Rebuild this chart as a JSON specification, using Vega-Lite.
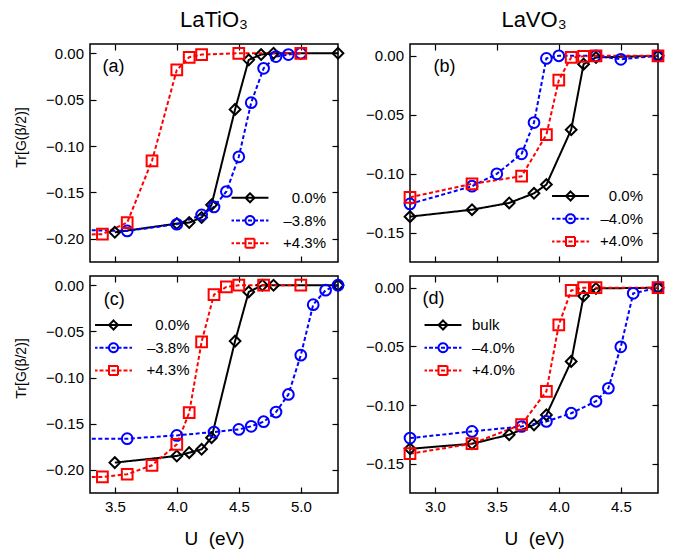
{
  "$schema": "https://vega.github.io/schema/vega-lite/v6.json",
  "padding": {"left": 13, "top": 8, "right": 5, "bottom": 5},
  "background": "white",
  "config": {
    "font": "Liberation Sans",
    "view": {"stroke": "black", "strokeWidth": 1.5},
    "axis": {"grid": false, "domain": false, "tickSize": -6, "tickWidth": 1.2, "tickColor": "black", "labelFontSize": 15, "labelColor": "black", "labelFont": "Liberation Sans", "titleFont": "Liberation Sans", "titleFontWeight": "normal", "titleColor": "black"},
    "axisX": {"labelPadding": 12, "titleFontSize": 19, "titlePadding": 15},
    "axisY": {"labelPadding": 12.5},
    "legend": {"labelFont": "Liberation Sans", "labelFontSize": 15, "labelColor": "black", "symbolSize": 81, "symbolStrokeWidth": 2, "padding": 0, "rowPadding": 5.7, "orient": "none"},
    "title": {"font": "Liberation Sans", "fontSize": 22, "fontWeight": "normal", "color": "black", "baseline": "alphabetic", "offset": 11, "frame": "group"}
  },
  "datasets": {
    "d": [
      {"p": "a", "s": "0.0%", "U": 3.5, "G": -0.193},
      {"p": "a", "s": "0.0%", "U": 4.0, "G": -0.1836},
      {"p": "a", "s": "0.0%", "U": 4.1, "G": -0.1825},
      {"p": "a", "s": "0.0%", "U": 4.2, "G": -0.177},
      {"p": "a", "s": "0.0%", "U": 4.28, "G": -0.1634},
      {"p": "a", "s": "0.0%", "U": 4.47, "G": -0.0605},
      {"p": "a", "s": "0.0%", "U": 4.58, "G": -0.0071},
      {"p": "a", "s": "0.0%", "U": 4.68, "G": -0.0014},
      {"p": "a", "s": "0.0%", "U": 4.78, "G": 0},
      {"p": "a", "s": "0.0%", "U": 5.3, "G": 0},
      {"p": "a", "s": "–3.8%", "U": 3.0, "G": -0.19},
      {"p": "a", "s": "–3.8%", "U": 3.6, "G": -0.1915},
      {"p": "a", "s": "–3.8%", "U": 4.0, "G": -0.1843},
      {"p": "a", "s": "–3.8%", "U": 4.2, "G": -0.1742},
      {"p": "a", "s": "–3.8%", "U": 4.3, "G": -0.1656},
      {"p": "a", "s": "–3.8%", "U": 4.4, "G": -0.149},
      {"p": "a", "s": "–3.8%", "U": 4.5, "G": -0.1116},
      {"p": "a", "s": "–3.8%", "U": 4.6, "G": -0.0532},
      {"p": "a", "s": "–3.8%", "U": 4.7, "G": -0.0162},
      {"p": "a", "s": "–3.8%", "U": 4.8, "G": -0.0036},
      {"p": "a", "s": "–3.8%", "U": 4.9, "G": -0.0014},
      {"p": "a", "s": "–3.8%", "U": 5.0, "G": 0},
      {"p": "a", "s": "+4.3%", "U": 3.0, "G": -0.1965},
      {"p": "a", "s": "+4.3%", "U": 3.4, "G": -0.195},
      {"p": "a", "s": "+4.3%", "U": 3.6, "G": -0.1825},
      {"p": "a", "s": "+4.3%", "U": 3.8, "G": -0.1159},
      {"p": "a", "s": "+4.3%", "U": 4.0, "G": -0.018},
      {"p": "a", "s": "+4.3%", "U": 4.1, "G": -0.0043},
      {"p": "a", "s": "+4.3%", "U": 4.2, "G": -0.0014},
      {"p": "a", "s": "+4.3%", "U": 4.5, "G": 0},
      {"p": "a", "s": "+4.3%", "U": 5.0, "G": 0},
      {"p": "b", "s": "0.0%", "U": 2.8, "G": -0.1365},
      {"p": "b", "s": "0.0%", "U": 3.3, "G": -0.1306},
      {"p": "b", "s": "0.0%", "U": 3.6, "G": -0.1249},
      {"p": "b", "s": "0.0%", "U": 3.8, "G": -0.1167},
      {"p": "b", "s": "0.0%", "U": 3.9, "G": -0.1093},
      {"p": "b", "s": "0.0%", "U": 4.1, "G": -0.0627},
      {"p": "b", "s": "0.0%", "U": 4.2, "G": -0.0071},
      {"p": "b", "s": "0.0%", "U": 4.3, "G": -0.0014},
      {"p": "b", "s": "0.0%", "U": 4.8, "G": 0},
      {"p": "b", "s": "–4.0%", "U": 2.8, "G": -0.1257},
      {"p": "b", "s": "–4.0%", "U": 3.3, "G": -0.1107},
      {"p": "b", "s": "–4.0%", "U": 3.5, "G": -0.1002},
      {"p": "b", "s": "–4.0%", "U": 3.7, "G": -0.0832},
      {"p": "b", "s": "–4.0%", "U": 3.8, "G": -0.0567},
      {"p": "b", "s": "–4.0%", "U": 3.9, "G": -0.0022},
      {"p": "b", "s": "–4.0%", "U": 4.0, "G": 0},
      {"p": "b", "s": "–4.0%", "U": 4.3, "G": 0},
      {"p": "b", "s": "–4.0%", "U": 4.5, "G": -0.003},
      {"p": "b", "s": "–4.0%", "U": 4.8, "G": 0},
      {"p": "b", "s": "+4.0%", "U": 2.8, "G": -0.1201},
      {"p": "b", "s": "+4.0%", "U": 3.3, "G": -0.1087},
      {"p": "b", "s": "+4.0%", "U": 3.7, "G": -0.1022},
      {"p": "b", "s": "+4.0%", "U": 3.9, "G": -0.067},
      {"p": "b", "s": "+4.0%", "U": 4.0, "G": -0.0207},
      {"p": "b", "s": "+4.0%", "U": 4.1, "G": -0.0014},
      {"p": "b", "s": "+4.0%", "U": 4.2, "G": -0.0005},
      {"p": "b", "s": "+4.0%", "U": 4.3, "G": 0},
      {"p": "b", "s": "+4.0%", "U": 4.8, "G": 0},
      {"p": "c", "s": "0.0%", "U": 3.5, "G": -0.1921},
      {"p": "c", "s": "0.0%", "U": 4.0, "G": -0.1849},
      {"p": "c", "s": "0.0%", "U": 4.1, "G": -0.1813},
      {"p": "c", "s": "0.0%", "U": 4.2, "G": -0.1777},
      {"p": "c", "s": "0.0%", "U": 4.28, "G": -0.1651},
      {"p": "c", "s": "0.0%", "U": 4.47, "G": -0.0605},
      {"p": "c", "s": "0.0%", "U": 4.58, "G": -0.0072},
      {"p": "c", "s": "0.0%", "U": 4.69, "G": 0},
      {"p": "c", "s": "0.0%", "U": 4.78, "G": 0},
      {"p": "c", "s": "0.0%", "U": 5.3, "G": 0},
      {"p": "c", "s": "–3.8%", "U": 3.0, "G": -0.1664},
      {"p": "c", "s": "–3.8%", "U": 3.6, "G": -0.1662},
      {"p": "c", "s": "–3.8%", "U": 4.0, "G": -0.1626},
      {"p": "c", "s": "–3.8%", "U": 4.3, "G": -0.159},
      {"p": "c", "s": "–3.8%", "U": 4.5, "G": -0.1561},
      {"p": "c", "s": "–3.8%", "U": 4.6, "G": -0.1528},
      {"p": "c", "s": "–3.8%", "U": 4.7, "G": -0.1478},
      {"p": "c", "s": "–3.8%", "U": 4.8, "G": -0.1373},
      {"p": "c", "s": "–3.8%", "U": 4.9, "G": -0.1183},
      {"p": "c", "s": "–3.8%", "U": 5.0, "G": -0.0757},
      {"p": "c", "s": "–3.8%", "U": 5.1, "G": -0.021},
      {"p": "c", "s": "–3.8%", "U": 5.2, "G": -0.0054},
      {"p": "c", "s": "–3.8%", "U": 5.3, "G": 0},
      {"p": "c", "s": "+4.3%", "U": 3.0, "G": -0.208},
      {"p": "c", "s": "+4.3%", "U": 3.4, "G": -0.2076},
      {"p": "c", "s": "+4.3%", "U": 3.6, "G": -0.2047},
      {"p": "c", "s": "+4.3%", "U": 3.8, "G": -0.195},
      {"p": "c", "s": "+4.3%", "U": 4.0, "G": -0.1723},
      {"p": "c", "s": "+4.3%", "U": 4.1, "G": -0.138},
      {"p": "c", "s": "+4.3%", "U": 4.2, "G": -0.0613},
      {"p": "c", "s": "+4.3%", "U": 4.3, "G": -0.0101},
      {"p": "c", "s": "+4.3%", "U": 4.4, "G": -0.0018},
      {"p": "c", "s": "+4.3%", "U": 4.5, "G": 0},
      {"p": "c", "s": "+4.3%", "U": 4.7, "G": 0},
      {"p": "c", "s": "+4.3%", "U": 5.0, "G": 0},
      {"p": "d", "s": "bulk", "U": 2.8, "G": -0.1373},
      {"p": "d", "s": "bulk", "U": 3.3, "G": -0.133},
      {"p": "d", "s": "bulk", "U": 3.6, "G": -0.1253},
      {"p": "d", "s": "bulk", "U": 3.8, "G": -0.1169},
      {"p": "d", "s": "bulk", "U": 3.9, "G": -0.1084},
      {"p": "d", "s": "bulk", "U": 4.1, "G": -0.0628},
      {"p": "d", "s": "bulk", "U": 4.2, "G": -0.0071},
      {"p": "d", "s": "bulk", "U": 4.3, "G": -0.0006},
      {"p": "d", "s": "bulk", "U": 4.8, "G": 0},
      {"p": "d", "s": "–4.0%", "U": 2.8, "G": -0.1282},
      {"p": "d", "s": "–4.0%", "U": 3.3, "G": -0.1225},
      {"p": "d", "s": "–4.0%", "U": 3.7, "G": -0.1183},
      {"p": "d", "s": "–4.0%", "U": 3.9, "G": -0.114},
      {"p": "d", "s": "–4.0%", "U": 4.1, "G": -0.107},
      {"p": "d", "s": "–4.0%", "U": 4.3, "G": -0.0968},
      {"p": "d", "s": "–4.0%", "U": 4.4, "G": -0.0857},
      {"p": "d", "s": "–4.0%", "U": 4.5, "G": -0.0504},
      {"p": "d", "s": "–4.0%", "U": 4.6, "G": -0.0048},
      {"p": "d", "s": "–4.0%", "U": 4.8, "G": 0},
      {"p": "d", "s": "+4.0%", "U": 2.8, "G": -0.1415},
      {"p": "d", "s": "+4.0%", "U": 3.3, "G": -0.133},
      {"p": "d", "s": "+4.0%", "U": 3.7, "G": -0.1166},
      {"p": "d", "s": "+4.0%", "U": 3.9, "G": -0.0883},
      {"p": "d", "s": "+4.0%", "U": 4.0, "G": -0.0317},
      {"p": "d", "s": "+4.0%", "U": 4.1, "G": -0.0023},
      {"p": "d", "s": "+4.0%", "U": 4.2, "G": 0},
      {"p": "d", "s": "+4.0%", "U": 4.3, "G": 0},
      {"p": "d", "s": "+4.0%", "U": 4.8, "G": 0}
    ]
  },
  "spacing": 10,
  "resolve": {"scale": {"color": "independent"}},
  "vconcat": [
    {
      "spacing": 72,
      "bounds": "flush",
      "resolve": {"scale": {"color": "independent"}},
      "hconcat": [
        {
          "width": 248, "height": 218,
          "title": {"text": "LaTiO₃"},
          "layer": [
            {
              "data": {"name": "d"},
              "transform": [{"filter": "datum.p === 'a'"}],
              "mark": {"type": "line", "clip": true, "strokeWidth": 2},
              "encoding": {
                "x": {"field": "U", "type": "quantitative", "scale": {"domain": [3.3, 5.3], "nice": false, "zero": false}, "axis": {"orient": "bottom", "values": [3.5, 4, 4.5, 5], "labels": false, "title": null}},
                "y": {"field": "G", "type": "quantitative", "scale": {"domain": [-0.225, 0.01], "nice": false, "zero": false}, "axis": {"orient": "left", "values": [0, -0.05, -0.1, -0.15, -0.2], "format": ".2f", "title": "Tr[G(β/2)]", "titleFontSize": 14, "titleX": -62, "titleY": 93, "titleAngle": 270, "titleBaseline": "bottom", "titleAlign": "center"}},
                "color": {"field": "s", "type": "nominal", "scale": {"domain": ["0.0%", "–3.8%", "+4.3%"], "range": ["black", "#0000ff", "#ff0000"]},
                  "legend": {"title": null, "legendX": 152.5, "legendY": 146.3, "labelAlign": "right", "labelOffset": 68.5,
                    "encode": {"symbols": {"update": {"fill": {"value": "transparent"}, "strokeDash": {"value": [1, 0]}, "shape": {"signal": "datum.index === 0 ? 'M-4.1,0H4.1M-1,0L0,-1L1,0L0,1Z' : datum.index === 1 ? 'M-4.1,0H-3.55M-3.11,0H-2.22M-1.78,0H-0.89M-0.45,0H0.45M0.89,0H1.78M2.22,0H3.11M3.55,0H4.1M1,0A1,1 0 1,1 -1,0A1,1 0 1,1 1,0Z' : 'M-4.1,0H-3.55M-3.11,0H-2.22M-1.78,0H-0.89M-0.45,0H0.45M0.89,0H1.78M2.22,0H3.11M3.55,0H4.1M-1,-1H1V1H-1Z'"}}}}}},
                "strokeDash": {"condition": {"test": "datum.s === '0.0%' || datum.s === 'bulk'", "value": [1, 0]}, "value": [4, 2.5]}
              }
            },
            {
              "data": {"name": "d"},
              "transform": [{"filter": "datum.p === 'a' && datum.U >= 3.3"}],
              "mark": {"type": "point", "filled": false, "strokeWidth": 2, "size": 115, "opacity": 1},
              "encoding": {
                "x": {"field": "U", "type": "quantitative", "axis": {"orient": "top", "values": [3.5, 4, 4.5, 5], "labels": false, "title": null}},
                "y": {"field": "G", "type": "quantitative", "axis": {"orient": "right", "values": [0, -0.05, -0.1, -0.15, -0.2], "labels": false, "title": null}},
                "color": {"field": "s", "type": "nominal", "legend": null},
                "shape": {"condition": [{"test": "datum.s === '0.0%' || datum.s === 'bulk'", "value": "diamond"}, {"test": "indexof(datum.s, '+') === 0", "value": "square"}], "value": "circle"}
              }
            },
            {
              "data": {"values": [{"t": "(a)"}]},
              "mark": {"type": "text", "align": "left", "baseline": "middle", "fontSize": 18, "color": "black"},
              "encoding": {
                "x": {"datum": 3.4, "type": "quantitative", "axis": null},
                "y": {"datum": -0.015, "type": "quantitative", "axis": null},
                "text": {"field": "t"}
              }
            }
          ],
          "resolve": {"axis": {"x": "independent", "y": "independent"}}
        },
        {
          "width": 248, "height": 218,
          "title": {"text": "LaVO₃"},
          "layer": [
            {
              "data": {"name": "d"},
              "transform": [{"filter": "datum.p === 'b'"}],
              "mark": {"type": "line", "clip": true, "strokeWidth": 2},
              "encoding": {
                "x": {"field": "U", "type": "quantitative", "scale": {"domain": [2.8, 4.8], "nice": false, "zero": false}, "axis": {"orient": "bottom", "values": [3, 3.5, 4, 4.5], "labels": false, "title": null}},
                "y": {"field": "G", "type": "quantitative", "scale": {"domain": [-0.175, 0.01], "nice": false, "zero": false}, "axis": {"orient": "left", "values": [0, -0.05, -0.1, -0.15], "format": ".2f", "title": null}},
                "color": {"field": "s", "type": "nominal", "scale": {"domain": ["0.0%", "–4.0%", "+4.0%"], "range": ["black", "#0000ff", "#ff0000"]},
                  "legend": {"title": null, "legendX": 153, "legendY": 144.5, "labelAlign": "right", "labelOffset": 65,
                    "encode": {"symbols": {"update": {"fill": {"value": "transparent"}, "strokeDash": {"value": [1, 0]}, "shape": {"signal": "datum.index === 0 ? 'M-4.1,0H4.1M-1,0L0,-1L1,0L0,1Z' : datum.index === 1 ? 'M-4.1,0H-3.55M-3.11,0H-2.22M-1.78,0H-0.89M-0.45,0H0.45M0.89,0H1.78M2.22,0H3.11M3.55,0H4.1M1,0A1,1 0 1,1 -1,0A1,1 0 1,1 1,0Z' : 'M-4.1,0H-3.55M-3.11,0H-2.22M-1.78,0H-0.89M-0.45,0H0.45M0.89,0H1.78M2.22,0H3.11M3.55,0H4.1M-1,-1H1V1H-1Z'"}}}}}},
                "strokeDash": {"condition": {"test": "datum.s === '0.0%' || datum.s === 'bulk'", "value": [1, 0]}, "value": [4, 2.5]}
              }
            },
            {
              "data": {"name": "d"},
              "transform": [{"filter": "datum.p === 'b'"}],
              "mark": {"type": "point", "filled": false, "strokeWidth": 2, "size": 115, "opacity": 1},
              "encoding": {
                "x": {"field": "U", "type": "quantitative", "axis": {"orient": "top", "values": [3, 3.5, 4, 4.5], "labels": false, "title": null}},
                "y": {"field": "G", "type": "quantitative", "axis": {"orient": "right", "values": [0, -0.05, -0.1, -0.15], "labels": false, "title": null}},
                "color": {"field": "s", "type": "nominal", "legend": null},
                "shape": {"condition": [{"test": "datum.s === '0.0%' || datum.s === 'bulk'", "value": "diamond"}, {"test": "indexof(datum.s, '+') === 0", "value": "square"}], "value": "circle"}
              }
            },
            {
              "data": {"values": [{"t": "(b)"}]},
              "mark": {"type": "text", "align": "left", "baseline": "middle", "fontSize": 18, "color": "black"},
              "encoding": {
                "x": {"datum": 2.99, "type": "quantitative", "axis": null},
                "y": {"datum": -0.0094, "type": "quantitative", "axis": null},
                "text": {"field": "t"}
              }
            }
          ],
          "resolve": {"axis": {"x": "independent", "y": "independent"}}
        }
      ]
    },
    {
      "spacing": 72,
      "bounds": "flush",
      "resolve": {"scale": {"color": "independent"}},
      "hconcat": [
        {
          "width": 248, "height": 217,
          "layer": [
            {
              "data": {"name": "d"},
              "transform": [{"filter": "datum.p === 'c'"}],
              "mark": {"type": "line", "clip": true, "strokeWidth": 2},
              "encoding": {
                "x": {"field": "U", "type": "quantitative", "scale": {"domain": [3.3, 5.3], "nice": false, "zero": false}, "axis": {"orient": "bottom", "values": [3.5, 4, 4.5, 5], "format": ".1f", "title": "U\u00a0 (eV)"}},
                "y": {"field": "G", "type": "quantitative", "scale": {"domain": [-0.225, 0.01], "nice": false, "zero": false}, "axis": {"orient": "left", "values": [0, -0.05, -0.1, -0.15, -0.2], "format": ".2f", "title": "Tr[G(β/2)]", "titleFontSize": 14, "titleX": -62, "titleY": 92, "titleAngle": 270, "titleBaseline": "bottom", "titleAlign": "center"}},
                "color": {"field": "s", "type": "nominal", "scale": {"domain": ["0.0%", "–3.8%", "+4.3%"], "range": ["black", "#0000ff", "#ff0000"]},
                  "legend": {"title": null, "legendX": 16, "legendY": 41.5, "labelAlign": "right", "labelOffset": 68.5,
                    "encode": {"symbols": {"update": {"fill": {"value": "transparent"}, "strokeDash": {"value": [1, 0]}, "shape": {"signal": "datum.index === 0 ? 'M-4.1,0H4.1M-1,0L0,-1L1,0L0,1Z' : datum.index === 1 ? 'M-4.1,0H-3.55M-3.11,0H-2.22M-1.78,0H-0.89M-0.45,0H0.45M0.89,0H1.78M2.22,0H3.11M3.55,0H4.1M1,0A1,1 0 1,1 -1,0A1,1 0 1,1 1,0Z' : 'M-4.1,0H-3.55M-3.11,0H-2.22M-1.78,0H-0.89M-0.45,0H0.45M0.89,0H1.78M2.22,0H3.11M3.55,0H4.1M-1,-1H1V1H-1Z'"}}}}}},
                "strokeDash": {"condition": {"test": "datum.s === '0.0%' || datum.s === 'bulk'", "value": [1, 0]}, "value": [4, 2.5]}
              }
            },
            {
              "data": {"name": "d"},
              "transform": [{"filter": "datum.p === 'c' && datum.U >= 3.3"}],
              "mark": {"type": "point", "filled": false, "strokeWidth": 2, "size": 115, "opacity": 1},
              "encoding": {
                "x": {"field": "U", "type": "quantitative", "axis": {"orient": "top", "values": [3.5, 4, 4.5, 5], "labels": false, "title": null}},
                "y": {"field": "G", "type": "quantitative", "axis": {"orient": "right", "values": [0, -0.05, -0.1, -0.15, -0.2], "labels": false, "title": null}},
                "color": {"field": "s", "type": "nominal", "legend": null},
                "shape": {"condition": [{"test": "datum.s === '0.0%' || datum.s === 'bulk'", "value": "diamond"}, {"test": "indexof(datum.s, '+') === 0", "value": "square"}], "value": "circle"}
              }
            },
            {
              "data": {"values": [{"t": "(c)"}]},
              "mark": {"type": "text", "align": "left", "baseline": "middle", "fontSize": 18, "color": "black"},
              "encoding": {
                "x": {"datum": 3.41, "type": "quantitative", "axis": null},
                "y": {"datum": -0.0156, "type": "quantitative", "axis": null},
                "text": {"field": "t"}
              }
            }
          ],
          "resolve": {"axis": {"x": "independent", "y": "independent"}}
        },
        {
          "width": 248, "height": 217,
          "layer": [
            {
              "data": {"name": "d"},
              "transform": [{"filter": "datum.p === 'd'"}],
              "mark": {"type": "line", "clip": true, "strokeWidth": 2},
              "encoding": {
                "x": {"field": "U", "type": "quantitative", "scale": {"domain": [2.8, 4.8], "nice": false, "zero": false}, "axis": {"orient": "bottom", "values": [3, 3.5, 4, 4.5], "format": ".1f", "title": "U\u00a0 (eV)"}},
                "y": {"field": "G", "type": "quantitative", "scale": {"domain": [-0.175, 0.01], "nice": false, "zero": false}, "axis": {"orient": "left", "values": [0, -0.05, -0.1, -0.15], "format": ".2f", "title": null}},
                "color": {"field": "s", "type": "nominal", "scale": {"domain": ["bulk", "–4.0%", "+4.0%"], "range": ["black", "#0000ff", "#ff0000"]},
                  "legend": {"title": null, "legendX": 25.5, "legendY": 41.5, "labelAlign": "left", "labelOffset": 21.5,
                    "encode": {"symbols": {"update": {"fill": {"value": "transparent"}, "strokeDash": {"value": [1, 0]}, "shape": {"signal": "datum.index === 0 ? 'M-4.1,0H4.1M-1,0L0,-1L1,0L0,1Z' : datum.index === 1 ? 'M-4.1,0H-3.55M-3.11,0H-2.22M-1.78,0H-0.89M-0.45,0H0.45M0.89,0H1.78M2.22,0H3.11M3.55,0H4.1M1,0A1,1 0 1,1 -1,0A1,1 0 1,1 1,0Z' : 'M-4.1,0H-3.55M-3.11,0H-2.22M-1.78,0H-0.89M-0.45,0H0.45M0.89,0H1.78M2.22,0H3.11M3.55,0H4.1M-1,-1H1V1H-1Z'"}}}}}},
                "strokeDash": {"condition": {"test": "datum.s === '0.0%' || datum.s === 'bulk'", "value": [1, 0]}, "value": [4, 2.5]}
              }
            },
            {
              "data": {"name": "d"},
              "transform": [{"filter": "datum.p === 'd'"}],
              "mark": {"type": "point", "filled": false, "strokeWidth": 2, "size": 115, "opacity": 1},
              "encoding": {
                "x": {"field": "U", "type": "quantitative", "axis": {"orient": "top", "values": [3, 3.5, 4, 4.5], "labels": false, "title": null}},
                "y": {"field": "G", "type": "quantitative", "axis": {"orient": "right", "values": [0, -0.05, -0.1, -0.15], "labels": false, "title": null}},
                "color": {"field": "s", "type": "nominal", "legend": null},
                "shape": {"condition": [{"test": "datum.s === '0.0%' || datum.s === 'bulk'", "value": "diamond"}, {"test": "indexof(datum.s, '+') === 0", "value": "square"}], "value": "circle"}
              }
            },
            {
              "data": {"values": [{"t": "(d)"}]},
              "mark": {"type": "text", "align": "left", "baseline": "middle", "fontSize": 18, "color": "black"},
              "encoding": {
                "x": {"datum": 2.9, "type": "quantitative", "axis": null},
                "y": {"datum": -0.0099, "type": "quantitative", "axis": null},
                "text": {"field": "t"}
              }
            }
          ],
          "resolve": {"axis": {"x": "independent", "y": "independent"}}
        }
      ]
    }
  ]
}
